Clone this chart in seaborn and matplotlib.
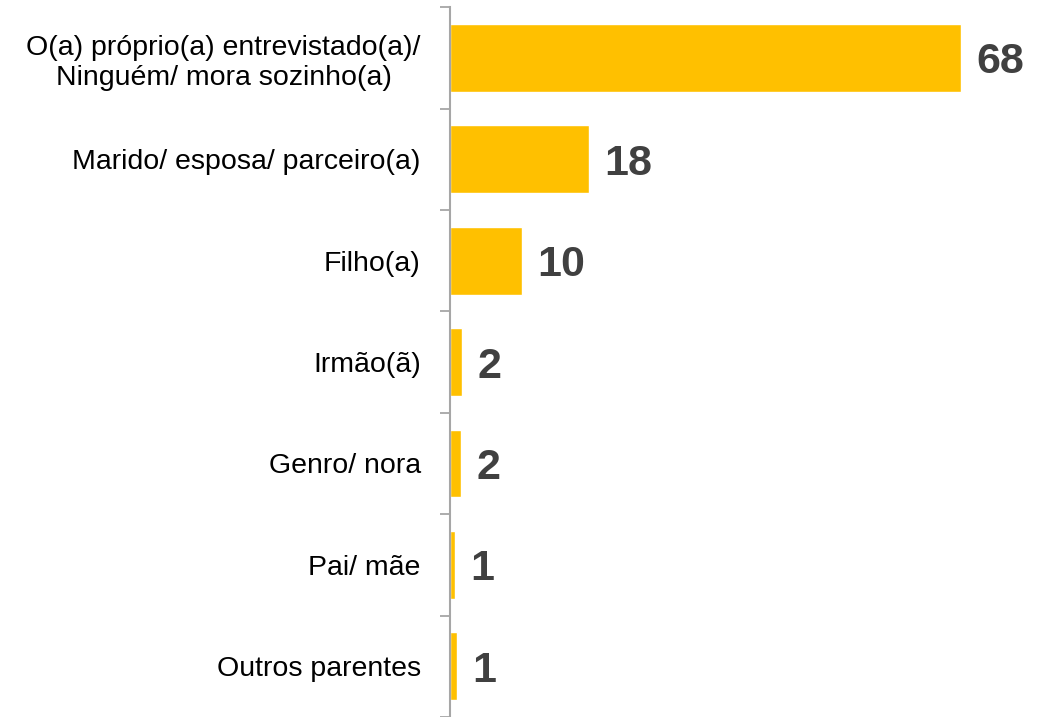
import matplotlib
matplotlib.use("Agg")
import matplotlib.pyplot as plt
import pandas as pd
import seaborn as sns
from matplotlib.ticker import FixedLocator

# data
categories = [
    "O(a) próprio(a) entrevistado(a)/\nNinguém/ mora sozinho(a)",
    "Marido/ esposa/ parceiro(a)",
    "Filho(a)",
    "Irmão(ã)",
    "Genro/ nora",
    "Pai/ mãe",
    "Outros parentes",
]
values = [68.0, 18.5, 9.6, 1.6, 1.5, 0.6, 0.9]
value_labels = ["68", "18", "10", "2", "2", "1", "1"]

df = pd.DataFrame({"category": categories, "value": values})

sns.set_style("white")
plt.rcParams["font.family"] = ["Liberation Sans", "DejaVu Sans"]

fig = plt.figure(figsize=(10.48, 7.17), dpi=100)
ax = fig.add_axes([0.4294, 0.0, 0.5706, 0.990])

sns.barplot(data=df, x="value", y="category", orient="h", color="#FFC000",
            saturation=1, width=0.67, ax=ax)

texts = ax.bar_label(ax.containers[0], labels=value_labels, padding=11,
                     fontsize=31, fontweight="bold", color="#404040")
for t in texts:
    t.set_va("center_baseline")

ax.set_xlim(0, 79.6)
ax.set_ylim(len(categories) - 0.5, -0.5)
ax.set_xlabel("")
ax.set_ylabel("")
ax.set_xticks([])

# ticks between categories, labels centred on bars
ax.yaxis.set_minor_locator(FixedLocator([i - 0.5 for i in range(len(categories) + 1)]))
ax.tick_params(axis="y", which="major", length=0, pad=21, labelsize=20.5, labelcolor="black")
ax.tick_params(axis="y", which="minor", length=7, width=1.3, color="#A6A6A6", left=True)
for lbl in ax.get_yticklabels():
    lbl.set_multialignment("center")

for side in ["top", "right", "bottom"]:
    ax.spines[side].set_visible(False)
ax.spines["left"].set_color("#A6A6A6")
ax.spines["left"].set_linewidth(1.5)

fig.savefig("out.png", dpi=100)
plt.close(fig)
